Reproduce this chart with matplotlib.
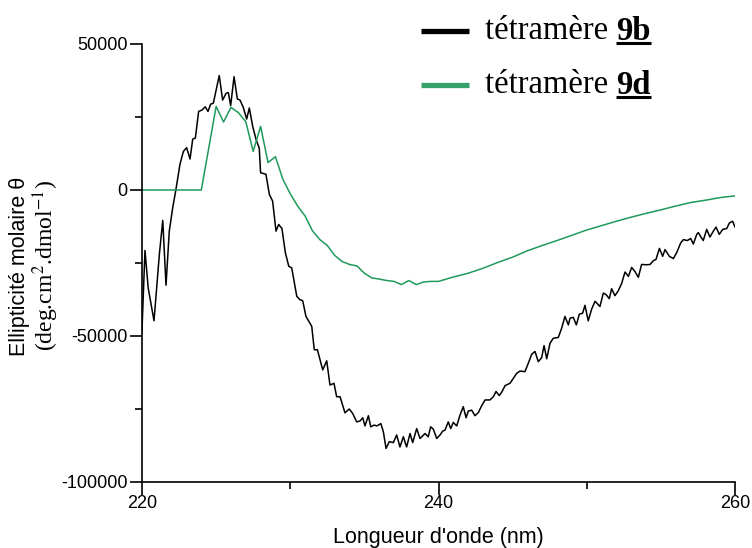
import matplotlib
matplotlib.use("Agg")
import matplotlib.pyplot as plt
from matplotlib.lines import Line2D
from matplotlib.ticker import FixedLocator

# ---- data ----
wl_9b = [220.0, 220.2, 220.42, 220.81, 221.17, 221.4, 221.62, 221.84, 222.07, 222.29,
         222.56, 222.79, 223.01, 223.24, 223.42, 223.6, 223.82, 224.05, 224.27, 224.45,
         224.63, 224.81, 224.99, 225.21, 225.44, 225.67, 225.82, 225.98, 226.21, 226.43,
         226.61, 226.83, 227.06, 227.24, 227.47, 227.69, 227.91, 228.0, 228.36, 228.59,
         228.81, 229.04, 229.22, 229.44, 229.67, 229.9, 230.1, 230.44, 230.66, 230.84,
         231.06, 231.45, 231.62, 231.83, 232.19, 232.46, 232.68, 232.95, 233.13, 233.36,
         233.69, 233.98, 234.21, 234.48, 234.71, 234.89, 235.04, 235.27, 235.43, 235.65,
         235.84, 236.11, 236.28, 236.46, 236.68, 236.95, 237.18, 237.4, 237.63, 237.85,
         238.08, 238.26, 238.53, 238.75, 239.09, 239.31, 239.47, 239.65, 239.88, 240.1,
         240.28, 240.44, 240.66, 240.82, 241.0, 241.23, 241.45, 241.67, 241.86, 242.01,
         242.24, 242.46, 242.69, 242.91, 243.14, 243.47, 243.7, 243.88, 244.1, 244.27,
         244.49, 244.82, 245.05, 245.27, 245.5, 245.83, 246.06, 246.29, 246.51, 246.73,
         246.96, 247.12, 247.3, 247.52, 247.74, 248.08, 248.31, 248.53, 248.76, 248.87,
         249.09, 249.3, 249.5, 249.72, 249.88, 250.1, 250.33, 250.56, 250.89, 251.12,
         251.3, 251.52, 251.68, 251.9, 252.13, 252.36, 252.58, 252.81, 253.03, 253.26,
         253.48, 253.7, 254.04, 254.27, 254.49, 254.67, 254.9, 255.12, 255.28, 255.57,
         255.84, 256.07, 256.34, 256.52, 256.79, 257.01, 257.19, 257.42, 257.53, 257.7,
         257.86, 258.09, 258.31, 258.54, 258.72, 258.94, 259.17, 259.44, 259.62, 259.84,
         260.0]
theta_9b = [-48000, -20700, -33600, -44800, -22100, -10400, -32600, -14100, -6100, 200,
            8800, 13200, 14500, 10600, 17400, 17800, 26900, 27400, 28500, 26900,
            29400, 29700, 34000, 39200, 30800, 33100, 33400, 28900, 38800, 31200,
            30800, 28300, 24300, 28100, 21700, 17400, 14300, 5900, 5400, -1500,
            -3800, -14100, -11800, -13200, -21500, -26100, -26700, -36400, -37600, -37900,
            -43300, -46700, -54700, -54700, -61600, -58500, -66800, -66200, -70800, -70800,
            -76300, -75000, -76500, -79400, -79100, -78000, -80800, -77300, -81100, -80500,
            -80800, -80000, -82800, -88500, -86200, -86500, -83900, -88000, -84500, -88000,
            -83400, -86500, -81700, -85100, -83400, -84500, -81100, -81900, -85100, -83900,
            -82600, -82200, -79400, -81700, -79600, -80800, -77100, -74200, -78000, -75700,
            -75400, -77300, -76200, -73900, -71900, -71900, -70800, -69000, -70400, -69200,
            -67000, -66200, -64500, -62800, -62000, -62200, -59300, -56200, -55300, -58800,
            -57400, -53300, -57800, -52500, -50800, -50500, -47300, -43300, -46200, -43900,
            -43600, -46200, -42500, -42200, -39500, -44800, -40800, -38100, -39900, -35300,
            -35800, -37200, -33800, -36200, -34500, -31900, -28100, -29600, -26500, -28000,
            -29900, -25500, -25600, -25500, -24200, -23800, -20000, -22700, -20400, -22700,
            -23500, -21400, -18100, -17000, -17300, -16600, -18500, -15200, -14600, -16100,
            -17300, -13500, -16100, -14100, -12700, -15200, -13500, -13200, -11300, -10700,
            -12700]

wl_9d = [220, 224, 225, 225.5, 226, 226.5, 227, 227.5, 228, 228.5, 229, 229.5, 230,
         230.5, 231, 231.5, 232, 232.5, 233, 233.5, 234, 234.5, 235, 235.5, 236, 236.5,
         237, 237.5, 238, 238.5, 239, 239.5, 240, 241, 242, 243, 244, 245, 246, 247,
         248, 249, 250, 251, 252, 253, 254, 255, 256, 257, 258, 259, 260]
theta_9d = [0, 0, 28600, 23300, 28300, 26500, 23400, 13200, 21800, 9400, 11400, 3700,
            -1300, -5500, -8900, -14000, -17000, -19000, -22400, -24500, -25500, -26000,
            -28500, -30100, -30500, -31000, -31300, -32400, -31000, -32400, -31500, -31300,
            -31300, -29800, -28500, -26800, -24800, -23000, -20800, -19000, -17300, -15500,
            -13700, -12200, -10700, -9300, -8000, -6800, -5500, -4300, -3500, -2600, -2000]

x_major = [220, 240, 260]
x_minor = [230, 250]
y_major = [-100000, -50000, 0, 50000]
y_minor = [-75000, -25000, 25000]

series_labels = ["9b", "9d"]
series_colors = ["#000000", "#1f9a5a"]
legend_colors = ["#000000", "#35a06a"]

W, H = 752, 548
fig = plt.figure(figsize=(W / 100, H / 100), dpi=100)
ax = fig.add_axes([142 / W, 1 - 482 / H, (735 - 142) / W, (482 - 44) / H])

ax.plot(wl_9b, theta_9b, color=series_colors[0], lw=1.1)
ax.plot(wl_9d, theta_9d, color=series_colors[1], lw=1.1)

ax.set_xlim(220, 260)
ax.set_ylim(-100000, 50000)
for s in ["top", "right"]:
    ax.spines[s].set_visible(False)
for s in ["left", "bottom"]:
    ax.spines[s].set_linewidth(1.2)

ax.xaxis.set_major_locator(FixedLocator(x_major))
ax.xaxis.set_minor_locator(FixedLocator(x_minor))
ax.yaxis.set_major_locator(FixedLocator(y_major))
ax.yaxis.set_minor_locator(FixedLocator(y_minor))
ax.set_xticklabels([str(v) for v in x_major])
ax.set_yticklabels([str(v) for v in y_major])
ax.tick_params(which="major", direction="out", length=9, width=1.2, labelsize=13)
ax.tick_params(axis="x", which="major", pad=0.5)
ax.tick_params(axis="y", which="major", pad=1.5)
ax.tick_params(which="minor", direction="out", length=5, width=1.2)
for lbl in ax.get_xticklabels() + ax.get_yticklabels():
    lbl.set_fontfamily("Liberation Sans")

ax.set_xlabel("Longueur d'onde (nm)", fontsize=15.5, family="Liberation Sans",
              labelpad=11)

# y label (two lines, two fonts)
fig.text(20 / W, 1 - 266 / H, "Ellipticité molaire θ", rotation=90, ha="center",
         va="center", fontsize=15.5, family="Liberation Sans")
plt.rcParams["mathtext.fontset"] = "stix"
fig.text(46 / W, 1 - 266 / H, r"(deg.cm$^{2}$.dmol$^{-1}$)", rotation=90, ha="center",
         va="center", fontsize=17, family="Liberation Serif")

# legend (manual, with bold underlined compound numbers)
fig.canvas.draw()
renderer = fig.canvas.get_renderer()
leg_rows = [31, 85]
for i, lab in enumerate(series_labels):
    yf = 1 - leg_rows[i] / H
    fig.add_artist(Line2D([421 / W, 469 / W], [yf, yf], transform=fig.transFigure,
                          color=legend_colors[i], lw=3.8, solid_capstyle="butt"))
    t1 = fig.text(485 / W, yf, "tétramère ", ha="left", va="center", fontsize=23.5,
                  family="Liberation Serif")
    bb = t1.get_window_extent(renderer)
    t2 = fig.text(bb.x1 / W, yf, lab, ha="left", va="center", fontsize=23.5,
                  family="Liberation Serif", weight="bold")
    bb2 = t2.get_window_extent(renderer)
    uy = (H - (leg_rows[i] + 12)) / H
    fig.add_artist(Line2D([bb2.x0 / W, bb2.x1 / W], [uy, uy], transform=fig.transFigure,
                          color="black", lw=2.2, solid_capstyle="butt"))

fig.savefig("out.png", dpi=100)
